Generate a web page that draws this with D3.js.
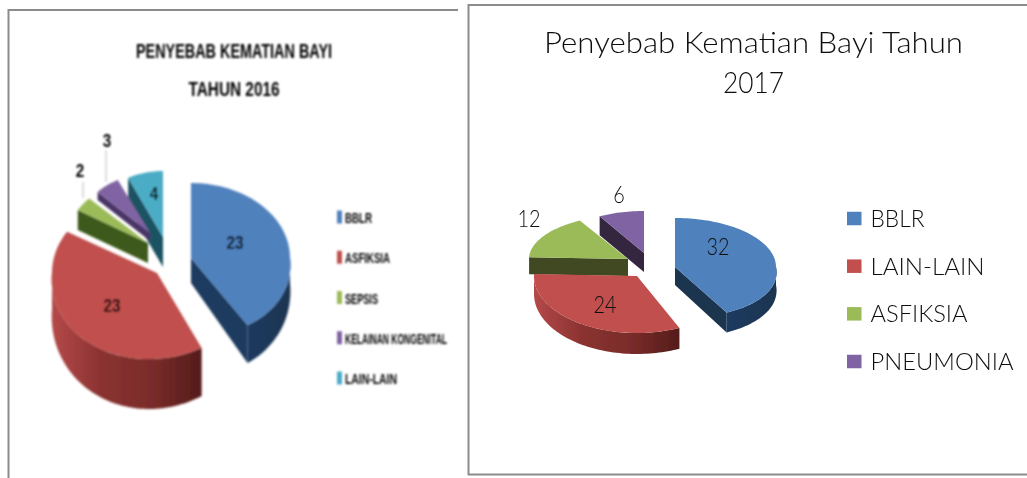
<!DOCTYPE html>
<html>
<head>
<meta charset="utf-8">
<script src="https://cdn.jsdelivr.net/npm/d3@7"></script>
<style>
  html, body { margin: 0; padding: 0; background: #fff; overflow: hidden; }
  svg { display: block; }
</style>
</head>
<body>
<div id="chart"></div>
<script>
// data
var causes2016 = ["BBLR", "ASFIKSIA", "SEPSIS", "KELAINAN KONGENITAL", "LAIN-LAIN"];
var values2016 = [23, 23, 2, 3, 4];
var colors2016 = ["#4f81bd", "#c0504d", "#9bbb59", "#8064a2", "#4bacc6"];
var darks2016 = ["#1c3a5e", "#6e2725", "#3c5a1c", "#4a3566", "#1f5364"];

var causes2017 = ["BBLR", "LAIN-LAIN", "ASFIKSIA", "PNEUMONIA"];
var values2017 = [32, 24, 12, 6];
var colors2017 = ["#4f81bd", "#c0504d", "#9bbb59", "#8064a2"];
var darks2017 = ["#1f3550", "#6e2725", "#3f4a20", "#35263f"];

// layout of each slice: apex (x, y), radii, depth, extra = how much the lower rim bulges,
// shear = sideways lean of the front half
var layout2016 = [
  { x: 191, y: 258, rx: 99, ryB: 75, ryF: 77, depth: 25, extra: 15, shear: 9, lx: 235, ly: 242 },
  { x: 157, y: 273, rx: 105, ryB: 80, ryF: 86, depth: 36, extra: 14, shear: -8, lx: 112, ly: 305 },
  { x: 148, y: 243, rx: 82, ryB: 64, ryF: 64, depth: 20, extra: 0, shear: 0, lx: 80, ly: 170 },
  { x: 150, y: 233, rx: 73, ryB: 59, ryF: 59, depth: 8, extra: 0, shear: 0, lx: 107, ly: 140 },
  { x: 163, y: 237, rx: 79, ryB: 66, ryF: 66, depth: 30, extra: 0, shear: 0, lx: 154, ly: 193 }
];
var layout2017 = [
  { x: 675, y: 267, rx: 101, ryB: 49, ryF: 50, depth: 18, extra: 2, shear: 11, lx: 718, ly: 247 },
  { x: 637, y: 276, rx: 103, ryB: 50, ryF: 57, depth: 18, extra: 3, shear: 0, lx: 605, ly: 305 },
  { x: 628, y: 259, rx: 99, ryB: 44, ryF: 44, depth: 17, extra: 0, shear: 0, lx: 529, ly: 219 },
  { x: 644, y: 253, rx: 91, ryB: 42, ryF: 42, depth: 19, extra: 0, shear: 0, lx: 619, ly: 195 }
];

var svg = d3.select("#chart")
  .append("svg")
  .attr("width", 1027)
  .attr("height", 478);

svg.append("rect").attr("width", 1027).attr("height", 478).attr("fill", "#fff");

var defs = svg.append("defs");

var blurHard = defs.append("filter").attr("id", "blurHard")
  .attr("x", "-5%").attr("y", "-5%").attr("width", "110%").attr("height", "110%");
blurHard.append("feGaussianBlur").attr("stdDeviation", 0.9);

var blurSoft = defs.append("filter").attr("id", "blurSoft")
  .attr("x", "-5%").attr("y", "-5%").attr("width", "110%").attr("height", "110%");
blurSoft.append("feGaussianBlur").attr("stdDeviation", 0.35);

function wallGradient(id, stops) {
  var g = defs.append("linearGradient").attr("id", id);
  stops.forEach(function(s, i) {
    g.append("stop").attr("offset", i / (stops.length - 1)).attr("stop-color", s);
  });
}
wallGradient("redWall", ["#b5494a", "#8a3230", "#7a2c2a", "#541c1a"]);
wallGradient("blueWall", ["#1b3a60", "#1f3550"]);

var pie = d3.pie().sort(null).value(function(d) { return d; });
var line = d3.line().curve(d3.curveLinear);

// point on the rim, front half is a bit deeper than the back (tilt)
function rimPoint(s, angle, r, low) {
  var c = Math.cos(angle);
  var ry = c > 0 ? s.ryB : s.ryF + (low ? s.extra : 0);
  var lean = c < 0 ? -c * s.shear : 0;
  return [
    s.x + (Math.sin(angle) * s.rx + lean) * r,
    s.y + (low ? s.depth : 0) - c * ry * r
  ];
}

function angles(a0, a1) {
  var n = Math.max(2, Math.ceil((a1 - a0) / 0.03));
  return d3.range(n + 1).map(function(i) { return a0 + (a1 - a0) * i / n; });
}

function drawPie(group, values, layout, colors, darks, order, wallFill) {
  var arcs = pie(values);
  order.forEach(function(i) {
    var a = arcs[i], s = layout[i];
    var g = group.append("g");

    // cut faces
    if (Math.sin(a.startAngle) < -0.001) {
      g.append("path").attr("fill", darks[i]).attr("d", line([
        rimPoint(s, a.startAngle, 0, false),
        rimPoint(s, a.startAngle, 1, false),
        rimPoint(s, a.startAngle, 1, true),
        rimPoint(s, a.startAngle, 0, true)
      ]) + "Z");
    }
    if (Math.sin(a.endAngle) > 0.001) {
      g.append("path").attr("fill", darks[i]).attr("d", line([
        rimPoint(s, a.endAngle, 0, false),
        rimPoint(s, a.endAngle, 1, false),
        rimPoint(s, a.endAngle, 1, true),
        rimPoint(s, a.endAngle, 0, true)
      ]) + "Z");
    }

    // outer wall, only the part turned to the viewer
    var w0 = Math.max(a.startAngle, Math.PI / 2), w1 = Math.min(a.endAngle, Math.PI * 1.5);
    if (w1 > w0) {
      var steps = angles(w0, w1);
      var pts = steps.map(function(t) { return rimPoint(s, t, 1, false); })
        .concat(steps.slice().reverse().map(function(t) { return rimPoint(s, t, 1, true); }));
      g.append("path").attr("fill", wallFill[i] || darks[i]).attr("d", line(pts) + "Z");
    }

    // top
    var top = [rimPoint(s, a.startAngle, 0, false)]
      .concat(angles(a.startAngle, a.endAngle).map(function(t) { return rimPoint(s, t, 1, false); }));
    g.append("path").attr("fill", colors[i]).attr("d", line(top) + "Z");
  });
}

function drawLegend(group, names, colors, opt) {
  var y = d3.scalePoint().domain(names).range([opt.y0, opt.y1]);
  names.forEach(function(n, i) {
    group.append("rect")
      .attr("x", opt.x).attr("y", y(n) - opt.h / 2)
      .attr("width", opt.w).attr("height", opt.h)
      .attr("fill", colors[i]);
    group.append("text")
      .attr("x", opt.tx).attr("y", y(n) + opt.dy)
      .attr("textLength", opt.widths[i]).attr("lengthAdjust", "spacingAndGlyphs")
      .attr("font-family", opt.font).attr("font-size", opt.size)
      .attr("font-weight", opt.weight).attr("fill", opt.fill)
      .text(n);
  });
}

function drawLabels(group, values, layout, font, size, weight, digitWidth, fill) {
  group.selectAll("text.val")
    .data(values)
    .enter().append("text")
    .attr("class", "val")
    .attr("x", function(d, i) { return layout[i].lx; })
    .attr("y", function(d, i) { return layout[i].ly; })
    .attr("dy", "0.35em")
    .attr("text-anchor", "middle")
    .attr("textLength", function(d) { return String(d).length * digitWidth; })
    .attr("lengthAdjust", "spacingAndGlyphs")
    .attr("font-family", font).attr("font-size", size).attr("font-weight", weight)
    .attr("fill", fill)
    .text(function(d) { return d; });
}

// frames
var frames = svg.append("g").attr("fill", "none").attr("stroke", "#8c8c8c").attr("stroke-width", 2);
frames.append("path").attr("d", "M458,10H8.5V478");
frames.append("path").attr("d", "M1027,5H468.5V474.5H1027");

// 2016 chart
var left = svg.append("g").attr("filter", "url(#blurHard)");
var narrow = "'Liberation Sans Narrow', 'Liberation Sans', sans-serif";

left.append("text").attr("x", 234).attr("y", 58).attr("text-anchor", "middle")
  .attr("textLength", 196).attr("lengthAdjust", "spacingAndGlyphs")
  .attr("font-family", narrow).attr("font-size", 21).attr("font-weight", 700).attr("fill", "#000")
  .text("PENYEBAB KEMATIAN BAYI");
left.append("text").attr("x", 234).attr("y", 96).attr("text-anchor", "middle")
  .attr("textLength", 91).attr("lengthAdjust", "spacingAndGlyphs")
  .attr("font-family", narrow).attr("font-size", 21).attr("font-weight", 700).attr("fill", "#000")
  .text("TAHUN 2016");

drawPie(left, values2016, layout2016, colors2016, darks2016, [4, 3, 2, 1, 0],
  ["url(#blueWall)", "url(#redWall)"]);

// leader lines for the two small slices
left.append("path").attr("fill", "none").attr("stroke", "#bbb").attr("stroke-width", 1)
  .attr("d", "M106,150V182M83,182V198");

drawLabels(left, values2016, layout2016, narrow, 19, 700, 8.5, "#000");

drawLegend(left, causes2016, colors2016, {
  x: 337, w: 5, h: 13, y0: 217, y1: 378, tx: 345, dy: 6, size: 15, weight: 700, font: narrow, fill: "#000",
  widths: [27, 45, 33, 102, 52]
});

// 2017 chart
var right = svg.append("g").attr("filter", "url(#blurSoft)");
var plain = "Lato, 'Open Sans', sans-serif";

right.append("text").attr("x", 544).attr("y", 53)
  .attr("textLength", 419).attr("lengthAdjust", "spacingAndGlyphs")
  .attr("font-family", plain).attr("font-size", 30).attr("font-weight", 300).attr("fill", "#111")
  .text("Penyebab Kematian Bayi Tahun");
right.append("text").attr("x", 723).attr("y", 93)
  .attr("textLength", 61).attr("lengthAdjust", "spacingAndGlyphs")
  .attr("font-family", plain).attr("font-size", 30).attr("font-weight", 300).attr("fill", "#111")
  .text("2017");

drawPie(right, values2017, layout2017, colors2017, darks2017, [3, 2, 1, 0],
  ["url(#blueWall)", "url(#redWall)"]);

drawLabels(right, values2017, layout2017, plain, 24, 300, 11.5, "#111");

drawLegend(right, causes2017, colors2017, {
  x: 847, w: 14.5, h: 13.5, y0: 218.5, y1: 361.5, tx: 870.5, dy: 8.5, size: 24, weight: 300, font: plain, fill: "#111",
  widths: [54, 114, 97, 143]
});
</script>
</body>
</html>
